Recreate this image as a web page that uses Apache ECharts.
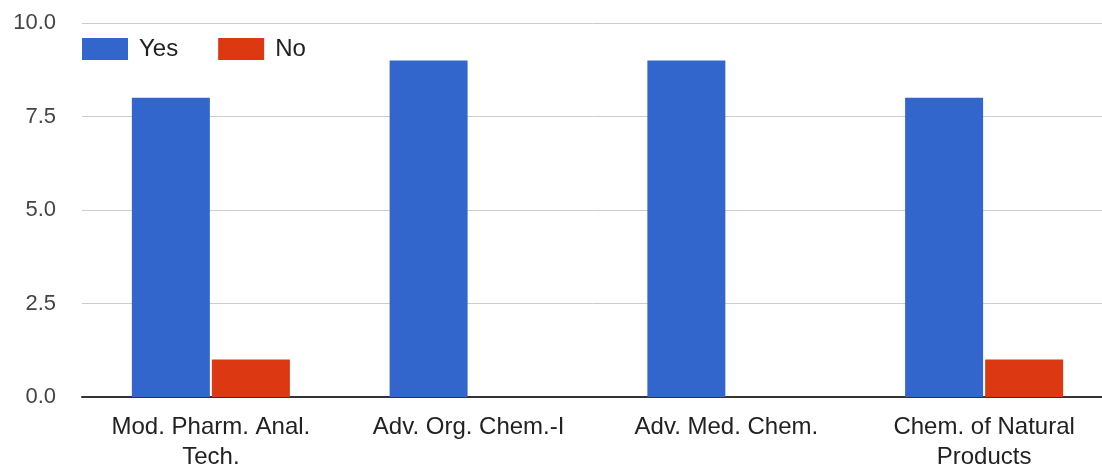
<!DOCTYPE html>
<html><head><meta charset="utf-8">
<script src="https://cdn.jsdelivr.net/npm/echarts@6/dist/echarts.min.js"></script>
<style>html,body{margin:0;padding:0;background:#fff}#c{width:1102px;height:468px}</style>
</head><body><div id="c"></div>
<script>
const categories = ["Mod. Pharm. Anal.\nTech.", "Adv. Org. Chem.-I", "Adv. Med. Chem.", "Chem. of Natural\nProducts"];
const yesValues = [8, 9, 9, 8];
const noValues = [1, 0, 0, 1];
const seriesNames = ["Yes", "No"];

const chart = echarts.init(document.getElementById('c'), null, {renderer: 'canvas'});
chart.setOption({
  animation: false,
  textStyle: {fontFamily: 'Liberation Sans, Arial, sans-serif'},
  color: ['#3366cc', '#dc3912'],
  legend: {
    left: 82, top: 37, padding: 0, itemWidth: 46, itemHeight: 22, itemGap: 40,
    icon: 'rect',
    textStyle: {fontSize: 24, color: '#222', padding: [0,0,0,6]},
    data: seriesNames
  },
  grid: {left: 82, top: 23, width: 1031, height: 374, containLabel: false, outerBoundsMode: 'none'},
  xAxis: {
    type: 'category', data: categories,
    axisLine: {lineStyle: {color: '#333', width: 2}},
    axisTick: {show: false},
    axisLabel: {fontSize: 24, color: '#222', margin: 15, lineHeight: 30, interval: 0}
  },
  yAxis: {
    type: 'value', min: 0, max: 10, interval: 2.5,
    axisLine: {show: false}, axisTick: {show: false},
    splitLine: {lineStyle: {color: '#ccc', width: 1}},
    axisLabel: {fontSize: 22, color: '#444', margin: 26, formatter: v => v.toFixed(1)}
  },
  series: [
    {name: seriesNames[0], type: 'bar', data: yesValues, barWidth: 78, barGap: '2.6%'},
    {name: seriesNames[1], type: 'bar', data: noValues, barWidth: 78, barGap: '2.6%'}
  ]
});
</script></body></html>
